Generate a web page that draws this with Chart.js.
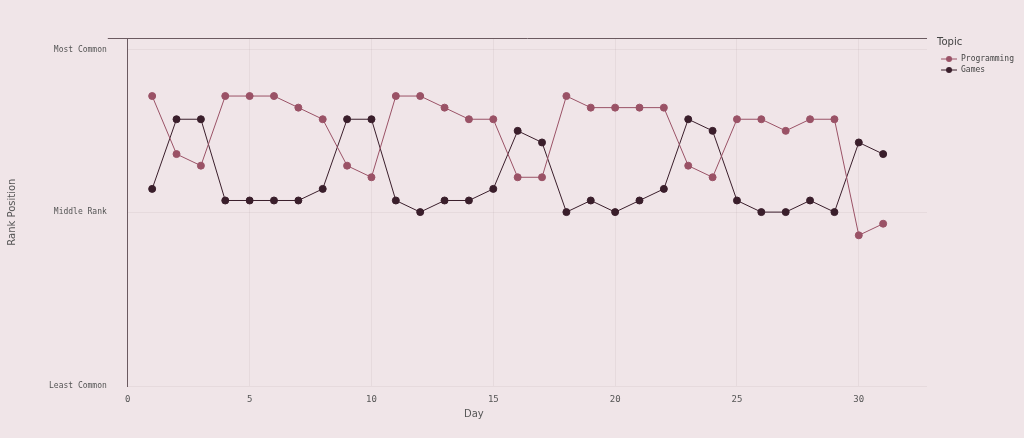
<!DOCTYPE html>
<html>
<head>
<meta charset="utf-8">
<script src="https://cdn.jsdelivr.net/npm/chart.js@4/dist/chart.umd.min.js"></script>
<style>
  html, body { margin: 0; padding: 0; background: #f0e5e8; }
  .wrap { width: 1024px; height: 438px; position: relative; }
</style>
</head>
<body>
<div class="wrap"><canvas id="rankChart"></canvas></div>
<script>
const days = [1,2,3,4,5,6,7,8,9,10,11,12,13,14,15,16,17,18,19,20,21,22,23,24,25,26,27,28,29,30,31];
const programmingRank = [5,10,11,5,5,5,6,7,11,12,5,5,6,7,7,12,12,5,6,6,6,6,11,12,7,7,8,7,7,17,16];
const gamesRank = [13,7,7,14,14,14,14,13,7,7,14,15,14,14,13,8,9,15,14,15,14,13,7,8,14,15,15,14,15,9,10];
const dayTicks = [0, 5, 10, 15, 20, 25, 30];
const rankTicks = [0, 1, 15, 30];
const rankLabels = { 1: "Most Common", 15: "Middle Rank", 30: "Least Common" };

const pink = "#9a5266";
const dark = "#3a1e2b";
const mono = "'DejaVu Sans Mono', monospace";
const sans = "'DejaVu Sans', sans-serif";

const toPoints = (vals) => vals.map((v, i) => ({ x: days[i], y: v }));

// legend marker: short line with a dot in the middle (gap on the left)
const legendMarker = (color) => {
  const c = document.createElement("canvas");
  c.width = 27;
  c.height = 8;
  const g = c.getContext("2d");
  g.strokeStyle = color;
  g.lineWidth = 1;
  g.beginPath();
  g.moveTo(11, 4);
  g.lineTo(27, 4);
  g.stroke();
  g.fillStyle = color;
  g.beginPath();
  g.arc(19, 4, 3, 0, Math.PI * 2);
  g.fill();
  return c;
};

// axis title "Day" (left of centre) and the legend heading "Topic"
const extraText = {
  id: "extraText",
  afterDraw(chart) {
    const ctx = chart.ctx;
    const xs = chart.scales.x;
    ctx.save();
    ctx.font = "10px " + sans;
    ctx.fillStyle = "#555";
    ctx.textAlign = "center";
    ctx.textBaseline = "middle";
    ctx.fillText("Day", xs.getPixelForValue(14.2), 414);
    ctx.fillStyle = "#444";
    ctx.textAlign = "left";
    ctx.fillText("Topic", chart.legend.left + 10, 42);
    ctx.restore();
  },
};

new Chart("rankChart", {
  type: "line",
  data: {
    datasets: [
      {
        label: "Programming",
        data: toPoints(programmingRank),
        borderColor: pink,
        backgroundColor: pink,
        borderWidth: 1,
        pointRadius: 3.5,
        pointHoverRadius: 3.5,
      },
      {
        label: "Games",
        data: toPoints(gamesRank),
        borderColor: dark,
        backgroundColor: dark,
        borderWidth: 1,
        pointRadius: 3.5,
        pointHoverRadius: 3.5,
      },
    ],
  },
  options: {
    responsive: true,
    maintainAspectRatio: false,
    animation: false,
    layout: { padding: { left: 3, right: 0, top: 38, bottom: 0 } },
    plugins: {
      legend: {
        position: "right",
        align: "start",
        title: {
          display: true,
          text: " ",
          position: "start",
          color: "rgba(0,0,0,0)",
          font: { family: sans, size: 10 },
          padding: { top: 0, bottom: 2 },
        },
        labels: {
          color: "#444",
          font: { family: mono, size: 8 },
          usePointStyle: true,
          pointStyleWidth: 27,
          boxHeight: 8,
          padding: 3,
          generateLabels: (chart) =>
            chart.data.datasets.map((ds, i) => ({
              text: ds.label,
              fillStyle: ds.borderColor,
              strokeStyle: ds.borderColor,
              fontColor: "#444",
              pointStyle: legendMarker(ds.borderColor),
              datasetIndex: i,
              hidden: false,
            })),
        },
      },
      tooltip: { enabled: false },
    },
    scales: {
      x: {
        type: "linear",
        min: 0,
        max: 32.8,
        afterBuildTicks: (axis) => { axis.ticks = dayTicks.map((v) => ({ value: v })); },
        ticks: { color: "#555", font: { family: mono, size: 9 }, maxRotation: 0, padding: 8 },
        grid: { color: "rgba(120,90,100,0.08)", drawTicks: false },
        border: { display: false },
        title: { display: true, text: " ", font: { size: 10 }, padding: { top: 4, bottom: 9 } },
      },
      y: {
        type: "linear",
        reverse: true,
        min: 0,
        max: 30,
        afterBuildTicks: (axis) => { axis.ticks = rankTicks.map((v) => ({ value: v })); },
        ticks: {
          color: "#555",
          font: { family: mono, size: 8 },
          padding: 1,
          callback: (v) => rankLabels[v] || "",
        },
        grid: {
          color: (c) => (c.tick && c.tick.value === 0 ? "#6b5a60" : "rgba(120,90,100,0.08)"),
          tickColor: (c) => (c.tick && c.tick.value === 0 ? "#6b5a60" : "rgba(0,0,0,0)"),
          tickLength: 20,
        },
        border: { display: true, color: "#6b5a60", width: 1 },
        title: {
          display: true,
          text: "Rank Position",
          color: "#555",
          font: { family: sans, size: 10 },
          padding: { top: 3, bottom: 30 },
        },
      },
    },
  },
  plugins: [extraText],
});
</script>
</body>
</html>
